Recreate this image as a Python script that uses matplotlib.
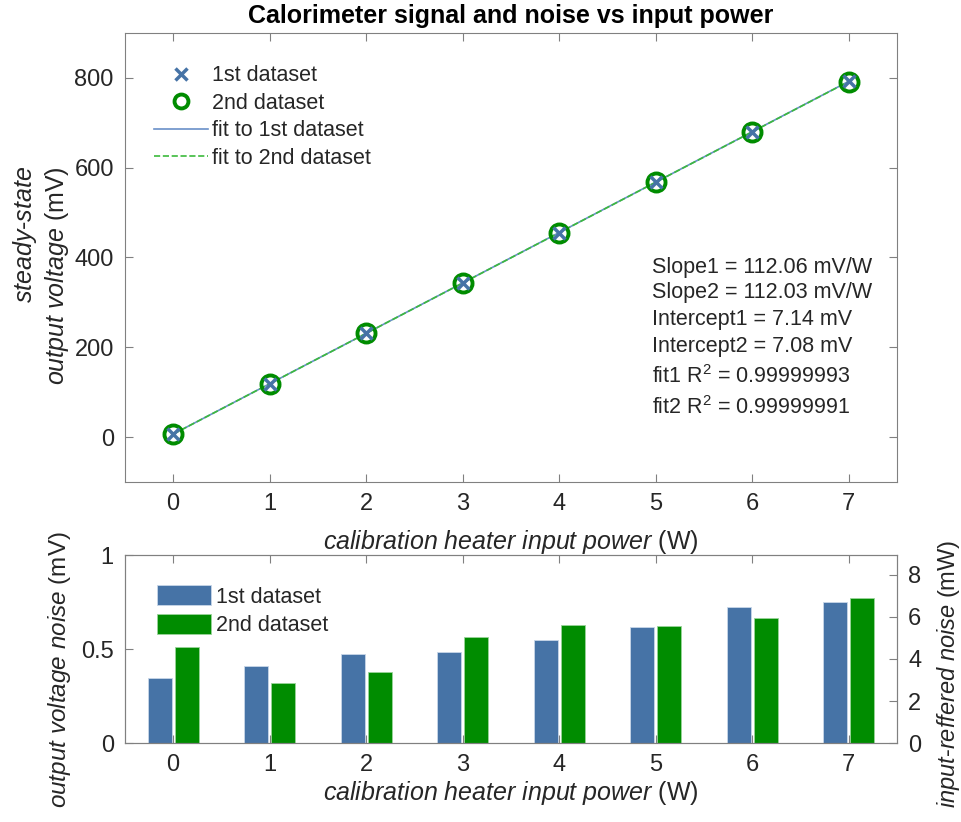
import matplotlib
matplotlib.use("Agg")
import matplotlib.pyplot as plt
from matplotlib.lines import Line2D
import numpy as np

plt.rcParams['font.family'] = ['Liberation Sans', 'DejaVu Sans']
plt.rcParams['mathtext.fontset'] = 'custom'
plt.rcParams['mathtext.rm'] = 'Liberation Sans'
plt.rcParams['mathtext.it'] = 'Liberation Sans:italic'
plt.rcParams['mathtext.bf'] = 'Liberation Sans:bold'

# data
power = [0, 1, 2, 3, 4, 5, 6, 7]
volt1 = [7.1, 119.3, 231.3, 343.1, 455.4, 567.5, 679.5, 791.6]
volt2 = [7.0, 119.2, 231.1, 343.2, 455.3, 567.3, 679.4, 791.2]
slope1, intercept1 = 112.06, 7.14
slope2, intercept2 = 112.03, 7.08
noise1 = [0.345, 0.409, 0.474, 0.487, 0.547, 0.616, 0.724, 0.752]
noise2 = [0.513, 0.320, 0.379, 0.566, 0.628, 0.623, 0.664, 0.772]
stats = ["Slope1 = 112.06 mV/W", "Slope2 = 112.03 mV/W",
         "Intercept1 = 7.14 mV", "Intercept2 = 7.08 mV",
         "fit1 R$^2$ = 0.99999993", "fit2 R$^2$ = 0.99999991"]

BLUE = "#4673a6"
GREEN = "#008c00"
LBLUE = "#6a90c8"
LGREEN = "#3cba3c"
SPINE = "#808080"
TXT = "#262626"
FS = 17
LFS = 18
SFS = 15.5

fig = plt.figure(figsize=(9.61, 8.22), dpi=100)
ax1 = fig.add_axes([0.130, 0.4133, 0.8033, 0.547])
ax2 = fig.add_axes([0.130, 0.0957, 0.8033, 0.229])


def style(ax, right=True):
    for s in ax.spines.values():
        s.set_color(SPINE)
    ax.tick_params(direction='in', length=6, color=SPINE, labelcolor=TXT,
                   labelsize=FS, top=True, right=right, pad=8)


# top panel
xf = np.array([power[0], power[-1]])
ax1.plot(xf, slope1 * xf + intercept1, '-', color=LBLUE, lw=1.2, label='fit to 1st dataset')
ax1.plot(xf, slope2 * xf + intercept2, '--', color=LGREEN, lw=1.2, label='fit to 2nd dataset')
ax1.plot(power, volt2, 'o', mfc='none', mec=GREEN, ms=13, mew=2.8, label='2nd dataset')
ax1.plot(power, volt1, 'x', color=BLUE, ms=8, mew=2.5, label='1st dataset')
ax1.set_xlim(-0.5, 7.5)
ax1.set_ylim(-100, 900)
ax1.set_xticks(power)
ax1.set_yticks([0, 200, 400, 600, 800])
style(ax1)
ax1.set_title("Calorimeter signal and noise vs input power", fontsize=18,
              fontweight='bold', pad=7)
ax1.set_xlabel(r"$\mathit{calibration\ heater\ input\ power}$ (W)", fontsize=LFS,
               color=TXT, labelpad=9)
ax1.set_ylabel("$\\mathit{steady}$-$\\mathit{state}$\n$\\mathit{output\\ voltage}$ (mV)",
               fontsize=LFS, color=TXT, linespacing=1.2, multialignment='right')
ax1.yaxis.set_label_coords(-0.07, 0.46)

handles = [
    Line2D([], [], ls='none', marker='x', color=BLUE, ms=8, mew=2.5),
    Line2D([], [], ls='none', marker='o', mfc='none', mec=GREEN, ms=10, mew=2.8),
    Line2D([], [], ls='-', color=LBLUE, lw=1.2),
    Line2D([], [], ls='--', color=LGREEN, lw=1.2),
]
labels = ['1st dataset', '2nd dataset', 'fit to 1st dataset', 'fit to 2nd dataset']
leg = ax1.legend(handles, labels, loc='upper left', bbox_to_anchor=(0.038, 0.927),
                 frameon=False, fontsize=SFS, handlelength=2.5, handletextpad=0.2,
                 labelspacing=0.3, borderpad=0, borderaxespad=0)
for t in leg.get_texts():
    t.set_color(TXT)

stat_y = [0.477, 0.423, 0.361, 0.303, 0.236, 0.166]
for s, y in zip(stats, stat_y):
    ax1.text(0.683, y, s, transform=ax1.transAxes, fontsize=SFS, color=TXT,
             va='center', ha='left')

# bottom panel
p = np.array(power)
w = 0.25
off = 0.14
ax2.bar(p - off, noise1, width=w, color=BLUE, edgecolor='#c8d6e8', lw=0.6, label='1st dataset')
ax2.bar(p + off, noise2, width=w, color=GREEN, edgecolor='#9ad49a', lw=0.6, label='2nd dataset')
ax2.set_xlim(-0.5, 7.5)
ax2.set_ylim(0, 1)
ax2.set_xticks(power)
ax2.set_yticks([0, 0.5, 1])
ax2.set_yticklabels(['0', '0.5', '1'])
style(ax2, right=False)
ax2.set_xlabel(r"$\mathit{calibration\ heater\ input\ power}$ (W)", fontsize=LFS,
               color=TXT, labelpad=2)
ax2.set_ylabel(r"$\mathit{output\ voltage\ noise}$ (mV)", fontsize=17.5, color=TXT)
ax2.yaxis.set_label_coords(-0.067, 0.39)
leg2 = ax2.legend(loc='upper left', bbox_to_anchor=(0.041, 0.84), frameon=False,
                  fontsize=SFS, handlelength=2.55, handleheight=1.05, handletextpad=0.2,
                  labelspacing=0.3, borderpad=0, borderaxespad=0)
for t in leg2.get_texts():
    t.set_color(TXT)

ax3 = ax2.twinx()
ax3.set_ylim(0, 1000.0 / slope1)
ax3.set_yticks([0, 2, 4, 6, 8])
for s in ax3.spines.values():
    s.set_color(SPINE)
ax3.tick_params(direction='in', length=6, color=SPINE, labelcolor=TXT, labelsize=FS, pad=8)
ax3.set_ylabel(r"$\mathit{input}$-$\mathit{reffered\ noise}$ (mW)", fontsize=17, color=TXT)
ax3.yaxis.set_label_coords(1.05, 0.37)

fig.savefig("out.png", dpi=100)
